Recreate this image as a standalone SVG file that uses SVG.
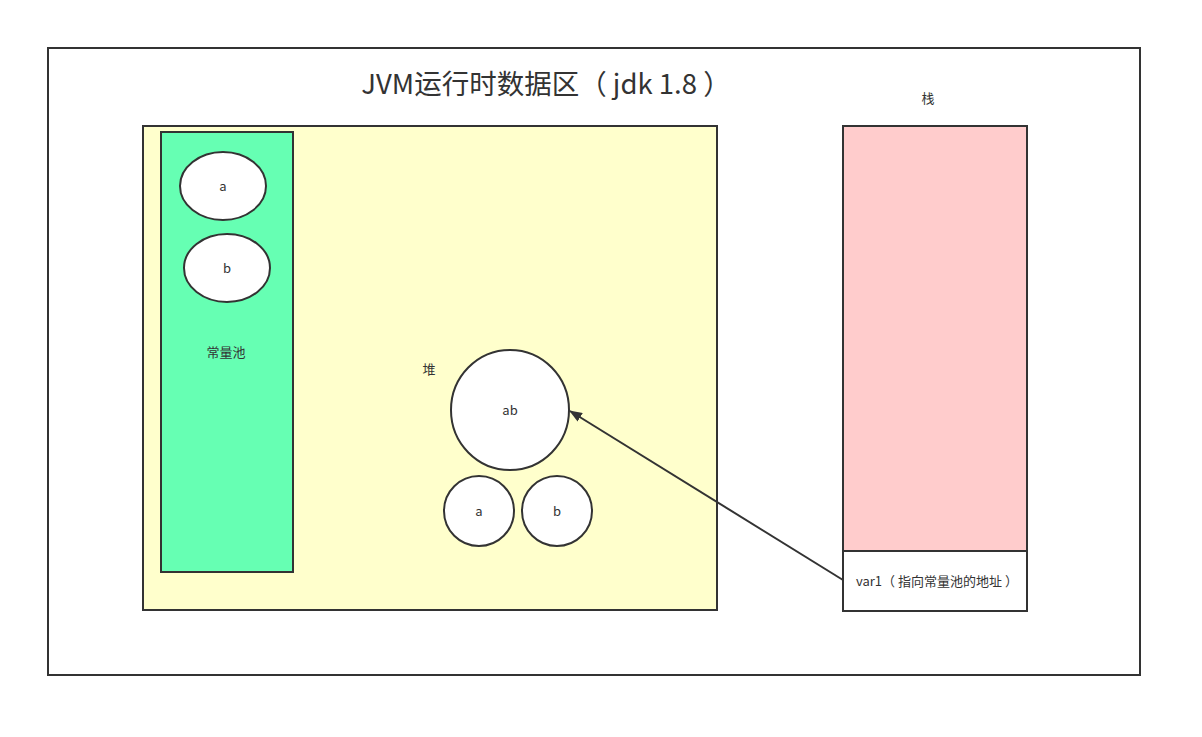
<svg xmlns="http://www.w3.org/2000/svg" width="1202" height="737" viewBox="0 0 1202 737">
<style>
.s{stroke:#333;stroke-width:2}
.t{font-family:"Noto Sans CJK SC","Noto Sans",sans-serif;font-size:13px;fill:#333}
.c{text-anchor:middle}
</style>
<defs>
<marker id="ah" markerWidth="13" markerHeight="10" refX="12" refY="5" orient="auto" markerUnits="userSpaceOnUse">
<path d="M0,0 L13,5 L0,10 Z" fill="#333"/>
</marker>
</defs>
<rect width="1202" height="737" fill="#fff"/>
<g id="frame">
<rect x="48" y="48" width="1092" height="627" fill="#fff" class="s"/>
<text x="542" y="94" class="c" style="font-family:'Noto Sans CJK SC','Noto Sans',sans-serif;font-size:27.5px;fill:#333" transform="translate(4,0)">JVM运行时数据区（ jdk 1.8 ）</text>
</g>
<g id="heap">
<rect x="143" y="126" width="574" height="484" fill="#ffffcc" class="s"/>
<text x="429" y="374" class="t c">堆</text>
</g>
<g id="pool">
<rect x="161" y="132" width="132" height="440" fill="#66ffb3" class="s"/>
<text x="226" y="357" class="t c">常量池</text>
</g>
<g id="pool-a">
<ellipse cx="223" cy="186" rx="43" ry="34" fill="#fff" class="s"/>
<text x="223" y="191" class="t c">a</text>
</g>
<g id="pool-b">
<ellipse cx="227" cy="268" rx="43" ry="34" fill="#fff" class="s"/>
<text x="227" y="273" class="t c">b</text>
</g>
<g id="heap-ab">
<ellipse cx="510" cy="410" rx="59" ry="60" fill="#fff" class="s"/>
<text x="510" y="415" class="t c">ab</text>
</g>
<g id="heap-a">
<circle cx="479" cy="511" r="35" fill="#fff" class="s"/>
<text x="479" y="516" class="t c">a</text>
</g>
<g id="heap-b">
<circle cx="557" cy="511" r="35" fill="#fff" class="s"/>
<text x="557" y="516" class="t c">b</text>
</g>
<g id="stack">
<text x="928" y="103" class="t c">栈</text>
<rect x="843" y="126" width="184" height="425" fill="#ffcccc" class="s"/>
</g>
<g id="var1">
<rect x="843" y="551" width="184" height="60" fill="#fff" class="s"/>
<text x="856" y="586" class="t">var1（ 指向常量池的地址 ）</text>
</g>
<g id="connectors">
<line x1="843" y1="580" x2="570" y2="411" stroke="#333" stroke-width="2" marker-end="url(#ah)"/>
</g>
</svg>
